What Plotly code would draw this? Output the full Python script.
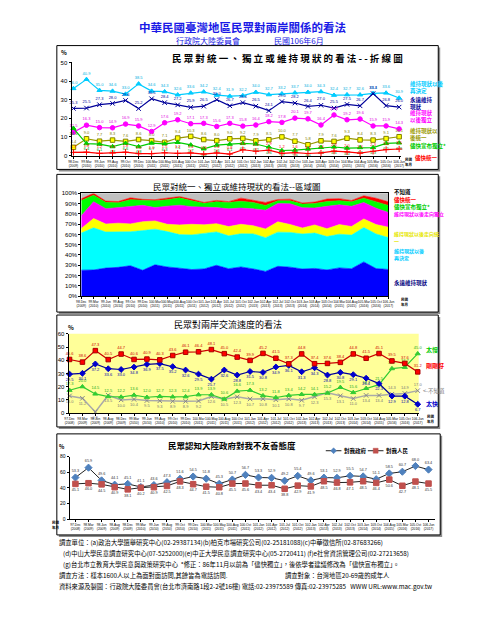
import plotly.graph_objects as go

W, H = 500, 635
CJK = "Noto Sans CJK TC"
NUM = "Liberation Sans"

# ---------------- data ----------------
dates_a = ["98.Dec", "99.Mar", "99.Jun", "99.Aug", "99.Oct", "99.Dec", "100.Mar", "100.May", "100.Aug",
           "100.Oct", "101.Jan", "101.Apr", "101.Jul", "101.Oct", "102.Jan", "102.Apr", "102.Jul", "102.Oct",
           "103.Jan", "103.Apr", "103.Oct", "104.Mar", "104.Aug", "105.Mar", "105.Oct", "106.Jun"]
years_a = ["2009", "2010", "2010", "2010", "2010", "2010", "2011", "2011", "2011", "2011", "2012", "2012",
           "2012", "2012", "2013", "2013", "2013", "2013", "2014", "2014", "2014", "2015", "2015", "2016",
           "2016", "2017"]

later_decide = [36.0, 40.9, 35.0, 34.6, 33.0, 38.5, 34.6, 34.3, 32.6, 33.6, 34.2, 32.4, 31.9, 32.2, 34.0,
                32.7, 33.2, 33.7, 34.0, 34.3, 32.4, 32.7, 32.6, 33.4, 33.6, 30.9]
forever_status = [25.3, 25.5, 27.3, 28.0, 29.6, 25.2, 30.5, 28.4, 27.2, 25.9, 26.5, 30.0, 26.7, 28.4, 26.5,
                  24.1, 29.0, 28.2, 26.4, 27.0, 25.5, 27.5, 26.7, 33.3, 26.8, 26.0]
later_indep = [12.5, 16.3, 15.0, 14.9, 16.9, 15.9, 12.9, 17.6, 19.2, 17.1, 17.3, 15.6, 17.3, 15.8, 16.4,
               18.2, 17.8, 20.1, 19.7, 16.4, 21.8, 19.2, 19.6, 15.9, 15.9, 14.3]
later_unif = [4.4, 9.0, 7.7, 8.3, 7.6, 8.6, 8.0, 7.1, 9.4, 10.3, 8.6, 8.0, 9.0, 9.2, 7.9, 8.5, 10.0, 7.7,
              5.8, 7.9, 7.6, 9.3, 8.4, 8.3, 9.1, 10.1]
asap_indep = [14.6, 6.4, 6.1, 4.8, 6.6, 4.8, 6.7, 6.3, 7.1, 5.7, 3.6, 5.6, 6.1, 6.5, 6.2, 4.6, 2.7, 2.9,
              3.5, 4.4, 4.6, 4.0, 4.3, 4.3, 6.5, 6.8]
asap_unif = [1.7, 1.8, 1.2, 1.3, 1.8, 1.0, 1.0, 1.5, 1.2, 1.4, 0.8, 1.4, 0.8, 3.1, 2.3, 2.9, 1.2, 1.6, 1.1,
             1.4, 2.4, 2.0, 1.3, 2.3, 3.2, 3.5]
dont_know_a = [5.5, 0.1, 7.7, 8.1, 4.5, 6.0, 6.3, 4.8, 3.3, 6.0, 9.0, 7.0, 8.2, 4.8, 6.7, 9.0, 6.1, 5.8,
               9.5, 8.6, 5.7, 5.3, 7.1, 2.5, 4.9, 8.4]

dates_b = ["97.Dec", "98.Mar", "98.Jun", "98.Aug", "98.Dec", "99.Mar", "99.Jun", "99.Aug", "99.Oct",
           "99.Dec", "100.Mar", "100.May", "100.Aug", "100.Oct", "101.Jan", "101.Apr", "101.Jul", "101.Oct",
           "102.Jan", "102.Apr", "102.Jul", "102.Oct", "103.Jan", "103.Oct", "104.Aug", "105.Mar",
           "105.Oct", "106.Jun"]
years_b = ["2008", "2009", "2009", "2009", "2009", "2010", "2010", "2010", "2010", "2010", "2011", "2011",
           "2011", "2011", "2012", "2012", "2012", "2012", "2013", "2013", "2013", "2013", "2014", "2014",
           "2015", "2016", "2016", "2017"]

pace_right = [40.6, 38.6, 47.3, 40.5, 44.7, 40.6, 40.9, 40.3, 43.6, 46.1, 46.4, 48.1, 45.0, 42.4, 39.9,
              45.2, 41.5, 37.3, 44.8, 37.4, 37.6, 38.4, 44.8, 41.5, 45.1, 39.5, 37.6, 31.2]
pace_fast = [29.5, 30.1, 37.2, 33.6, 33.0, 34.8, 36.9, 37.5, 35.2, 32.6, 29.5, 25.7, 32.6, 28.8, 31.5,
             30.8, 34.9, 36.1, 31.3, 34.3, 28.8, 30.8, 29.1, 26.4, 22.3, 12.9, 12.8, 6.7]
pace_slow = [17.3, 20.0, 14.5, 12.5, 12.2, 13.6, 12.0, 12.7, 12.3, 12.4, 13.9, 13.9, 10.6, 16.6, 17.3,
             13.2, 11.8, 13.4, 14.2, 14.1, 15.2, 19.5, 15.6, 18.7, 21.5, 33.7, 34.7, 45.0]
pace_dk = [13.0, 11.2, 0.9, 13.5, 10.0, 10.4, 9.5, 9.3, 8.9, 8.9, 9.2, 12.6, 10.5, 12.3, 10.7, 10.8,
           10.1, 10.8, 9.7, 12.3, 15.3, 13.1, 11.0, 13.4, 13.4, 14.3, 14.9, 17.0]

hostile_gov = [53.3, 65.9, 49.6, 44.1, 45.1, 41.1, 43.6, 47.3, 51.6, 54.5, 51.8, 45.3, 50.7, 56.7, 53.3,
               52.9, 49.2, 55.4, 49.6, 53.1, 52.9, 55.5, 54.7, 51.1, 58.5, 60.7, 68.0, 63.4]
hostile_people = [45.1, 46.0, 44.5, 40.9, 38.1, 40.2, 40.9, 42.5, 48.3, 44.7, 41.5, 40.8, 45.5, 45.6, 43.4,
                  43.4, 38.8, 42.9, 41.9, 48.5, 46.8, 47.1, 48.5, 46.4, 50.6, 42.7, 48.1, 45.5]


def fx(x):
    return x / W


def fy(y):
    return 1 - y / H


xa = list(range(len(dates_a)))
xb = list(range(len(dates_b)))
tt_a = [f"{d}<br>({y})" for d, y in zip(dates_a, years_a)]
tt_b = [f"{d}<br>({y})" for d, y in zip(dates_b, years_b)]

fig = go.Figure()


def line_series(x, y, xr, yr, lc, sym, mc, mlc, tc, tpos, msize=4.5, lw=1.2, tsize=4):
    fig.add_trace(go.Scatter(
        x=x, y=y, xaxis=xr, yaxis=yr, mode="lines+markers+text",
        line=dict(color=lc, width=lw),
        marker=dict(symbol=sym, size=msize, color=mc, line=dict(color=mlc, width=1)),
        text=[f"{v:.1f}" for v in y], textposition=tpos,
        textfont=dict(family=NUM, size=tsize, color=tc),
        cliponaxis=False, hoverinfo="skip"))


# ---- chart 1: lines ----
line_series(xa, later_decide, "x", "y", "#00CCFF", "triangle-up", "#00CCFF", "#00CCFF", "#00B0E0", "top center")
line_series(xa, forever_status, "x", "y", "#000099", "x-thin", "#000099", "#000099", "#000099", "top center")
line_series(xa, later_indep, "x", "y", "#FF00FF", "circle", "#FF00FF", "#FF00FF", "#E000E0", "top center")
line_series(xa, later_unif, "x", "y", "#999900", "square", "#FFFF00", "#808000", "#808000", "top center")
line_series(xa, asap_indep, "x", "y", "#00CC00", "triangle-up", "#00CC00", "#00CC00", "#009900", "bottom center")
line_series(xa, asap_unif, "x", "y", "#FF0000", "cross-thin", "#FF0000", "#FF0000", "#FF0000", "top center")

# ---- chart 2: 100% stacked area ----
area = [(forever_status, "#0000FF"), (later_decide, "#00FFFF"), (later_unif, "#FFFF00"),
        (later_indep, "#FF00FF"), (asap_indep, "#00FF00"), (asap_unif, "#FF0000"), (dont_know_a, "#C0C0C0")]
for vals, col in area:
    fig.add_trace(go.Scatter(x=xa, y=vals, xaxis="x2", yaxis="y2", mode="lines", stackgroup="s",
                             groupnorm="percent", line=dict(width=0.6, color=col), fillcolor=col,
                             hoverinfo="skip"))

# ---- chart 3: pace ----
dk_pos = ["bottom center"] * (len(pace_dk) - 3) + ["top center"] * 3
line_series(xb, pace_dk, "x3", "y3", "#AAAAAA", "x-thin", "#888888", "#888888", "#777777", dk_pos, lw=1.5)
line_series(xb, pace_slow, "x3", "y3", "#33CC33", "triangle-up", "#33CC33", "#33CC33", "#22AA22", "top center")
line_series(xb, pace_fast, "x3", "y3", "#000099", "diamond", "#0000CC", "#0000CC", "#0000AA", "bottom center")
line_series(xb, pace_right, "x3", "y3", "#CC0000", "square", "#FF0000", "#AA0000", "#CC0000", "top center")

# ---- chart 4: hostility ----
line_series(xb, hostile_gov, "x4", "y4", "#222222", "diamond", "#4F81BD", "#4F81BD", "#333333", "top center", msize=5.5, lw=1, tsize=3.8)
line_series(xb, hostile_people, "x4", "y4", "#222222", "square", "#C0504D", "#C0504D", "#333333", "bottom center", msize=5.5, lw=1, tsize=3.8)


def xaxis(dom, rng, tt, n, size=3.3):
    return dict(domain=[fx(dom[0]), fx(dom[1])], range=rng, tickvals=list(range(n)), ticktext=tt,
                tickangle=0, tickfont=dict(family=NUM, size=size, color="black"), showline=True,
                linecolor="black", linewidth=1, ticks="outside", ticklen=2, tickcolor="black",
                showgrid=False, zeroline=False, fixedrange=True)


def yaxis(dom, rng, dtick, anchor, size=6, suffix=""):
    return dict(domain=[fy(dom[1]), fy(dom[0])], range=rng, dtick=dtick, anchor=anchor,
                tickfont=dict(family=NUM, size=size, color="black"), ticksuffix=suffix, showline=True,
                linecolor="black", linewidth=1, ticks="outside", ticklen=2, tickcolor="black",
                showgrid=False, zeroline=False, fixedrange=True)


layout = dict(
    width=W, height=H, margin=dict(l=0, r=0, t=0, b=0), paper_bgcolor="white",
    plot_bgcolor="rgba(0,0,0,0)", showlegend=False,
    xaxis=dict(xaxis((68, 405), [-0.15, 25.15], tt_a, 26), anchor="y"),
    yaxis=yaxis((60, 154), [0, 50], 10, "x"),
    xaxis2=dict(xaxis((78, 392), [0, 25], tt_a, 26), anchor="y2", mirror=True),
    yaxis2=dict(yaxis((192, 296), [0, 100], 10, "x2", size=6, suffix="%"), mirror=True),
    xaxis3=dict(xaxis((65, 423), [-0.075, 27.075], tt_b, 28), anchor="y3"),
    yaxis3=yaxis((334, 414), [0, 60], 10, "x3"),
    xaxis4=dict(xaxis((66, 440), [-0.45, 27.52], tt_b, 28), anchor="y4"),
    yaxis4=yaxis((458, 521), [0, 80], 20, "x4", size=5),
)

shapes = []


def box(x0, y0, x1, y1):
    shapes.append(dict(type="rect", xref="paper", yref="paper", x0=fx(x0 + 2), x1=fx(x1 + 2),
                       y0=fy(y1 + 2), y1=fy(y0 + 2), fillcolor="#8C8C8C", line=dict(width=0), layer="below"))
    shapes.append(dict(type="rect", xref="paper", yref="paper", x0=fx(x0), x1=fx(x1), y0=fy(y1), y1=fy(y0),
                       fillcolor="white", line=dict(color="black", width=1), layer="below"))


box(53, 43, 443, 168)
box(53, 173, 443, 312)
box(53, 315, 443, 428)
box(53, 435, 445, 537)
shapes.append(dict(type="rect", xref="paper", yref="paper", x0=fx(65), x1=fx(423), y0=fy(414), y1=fy(334),
                   fillcolor="#FFFF99", line=dict(width=0), layer="below"))
# chart 4 legend symbols
for (lx0, col, kind) in [(328, "#4F81BD", "d"), (371, "#C0504D", "s")]:
    yy = 452
    shapes.append(dict(type="line", xref="paper", yref="paper", x0=fx(lx0), x1=fx(lx0 + 16), y0=fy(yy),
                       y1=fy(yy), line=dict(color="#222222", width=1)))
    cx = lx0 + 8
    if kind == "d":
        path = (f"M {fx(cx)},{fy(yy - 3)} L {fx(cx + 3)},{fy(yy)} L {fx(cx)},{fy(yy + 3)} "
                f"L {fx(cx - 3)},{fy(yy)} Z")
        shapes.append(dict(type="path", xref="paper", yref="paper", path=path, fillcolor=col,
                           line=dict(color=col, width=0.5)))
    else:
        shapes.append(dict(type="rect", xref="paper", yref="paper", x0=fx(cx - 2.5), x1=fx(cx + 2.5),
                           y0=fy(yy + 2.5), y1=fy(yy - 2.5), fillcolor=col, line=dict(color=col, width=0.5)))
layout["shapes"] = shapes

anns = []


def ann(text, x, y, size, color="black", bold=False, xanchor="left", yanchor="middle", family=CJK):
    if bold:
        text = f"<b>{text}</b>"
    anns.append(dict(text=text, x=fx(x), y=fy(y), xref="paper", yref="paper", showarrow=False,
                     font=dict(family=family, size=size, color=color), xanchor=xanchor, yanchor=yanchor,
                     align="left", borderpad=0))


NB = "\u00a0"
# main titles
ann("中華民國臺灣地區民眾對兩岸關係的看法", 243, 24, 11.5, "#1A1AE6", True, "center")
ann("行政院大陸委員會", 208, 38, 8, "#1A1AE6", False, "center")
ann("民國106年6月", 301, 38, 8, "#1A1AE6", False, "center")

# chart 1
ann(NB.join("民眾對統一、獨立或維持現狀的看法--折線圖"), 289, 56, 9.5, "black", True, "center")
ann("%", 60, 50, 6, "black", True, "center")
ann("維持現狀以後<br>再決定", 413, 85, 5.5, "#00CCFF", True)
ann("永遠維持<br>現狀", 413, 101, 5.5, "#000099", True)
ann("維持現狀<br>以後獨立", 413, 115, 5.5, "#FF00FF", True)
ann("維持現狀以<br>後統一", 413, 133, 5.5, "#999900", True)
ann("儘快宣布獨立*", 413, 144, 5.5, "#00CC00", True)
ann("儘快統一", 418, 156, 5.5, "#FF0000", True)
ann("民國<br>年月", 408, 161, 3.5, "black", True)

# chart 2
ann("民眾對統一、獨立或維持現狀的看法--區域圖", 237, 185, 8.5, "black", False, "center")
ann("不知道", 397, 191, 5.5, "black", True)
ann("儘快統一", 397, 199, 5.5, "#FF0000", True)
ann("儘快宣布獨立*", 397, 206, 5.5, "#00CC00", True)
ann("維持現狀以後走向獨立", 397, 213, 5, "#FF00FF", True)
ann("維持現狀以後走向統<br>一", 397, 236, 5, "#E6E600", True)
ann("維持現狀以後<br>再決定", 397, 254, 5, "#00CCFF", True)
ann("永遠維持現狀", 397, 283, 5.5, "#000080", True)
ann("民國<br>年月", 404, 302, 3.5, "black", True)

# chart 3
ann("民眾對兩岸交流速度的看法", 228, 325, 9, "black", False, "center")
ann("%", 67, 328, 6, "black", True, "center")
ann("太慢", 429, 350, 6, "#00CC00", True)
ann("剛剛好", 429, 366, 6, "#FF0000", True)
ann("<-不知道", 426, 392, 5.5, "#808080", False)
ann("太快", 429, 404, 6, "#0000CC", True)
ann("民國<br>年月", 430, 420, 3.5, "black", True)

# chart 4
ann("民眾認知大陸政府對我不友善態度", 232, 446, 8.5, "black", True, "center")
ann("%", 58, 448, 5.5, "black", True, "center")
ann("對我政府", 346, 452, 5.5, "black", True)
ann("對我人民", 389, 452, 5.5, "black", True)
ann("民國<br>年月", 47, 527, 3.5, "black", True)

# footer
fs = 6.3
ann("調查單位：(a)政治大學選舉研究中心(02-29387134)(b)柏克市場研究公司(02-25181088)(c)中華徵信所(02-87683266)",
    54, 545, fs)
ann("(d)中山大學民意調查研究中心(07-5252000)(e)中正大學民意調查研究中心(05-2720411)" + NB + "(f)e社會資訊管理公司(02-27213658)",
    58, 556, fs)
ann("(g)台北市立教育大學民意與政策研究中心" + NB * 2 + "*修正：86年11月以前為「儘快獨立」，後依學者建議修改為「儘快宣布獨立」。",
    58, 567, fs)
ann("調查方法：樣本1600人以上為面對面訪問,其餘皆為電話訪問.", 54, 578, fs)
ann("調查對象：台灣地區20-69歲的成年人", 285, 578, fs)
ann("資料來源及製圖：行政院大陸委員會(台北市濟南路1段2-2號16樓) 電話:02-23975589 傳真:02-23975285" + NB * 3 + "WWW URL:www.mac.gov.tw",
    54, 589, fs)

layout["annotations"] = anns
fig.update_layout(**layout)
fig.write_html("out.html")
